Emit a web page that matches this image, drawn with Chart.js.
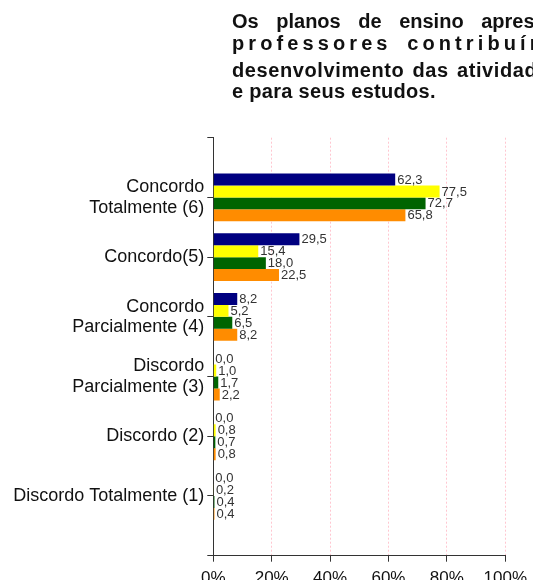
<!DOCTYPE html>
<html>
<head>
<meta charset="utf-8">
<script src="https://cdn.jsdelivr.net/npm/chart.js@4/dist/chart.umd.min.js"></script>
<style>
  html, body { margin: 0; padding: 0; background: #fff; overflow: hidden; }
  #wrap { position: relative; width: 533px; height: 580px; overflow: hidden; }
  #chart { position: absolute; left: 0; top: 0; }
  .tl {
    position: absolute; left: 232px; white-space: nowrap;
    font: bold 20px/20px 'Liberation Sans', Arial, sans-serif; color: #111;
  }
</style>
</head>
<body>
<div id="wrap">
  <canvas id="chart" width="533" height="580"></canvas>
  <div class="tl" style="top:11px; word-spacing:12px;">Os planos de ensino apresentados</div>
  <div class="tl" style="top:33px; letter-spacing:4.1px; word-spacing:6px;">professores contribuíram</div>
  <div class="tl" style="top:60px; letter-spacing:0.6px; word-spacing:2px;">desenvolvimento das atividades</div>
  <div class="tl" style="top:81px; letter-spacing:0.3px;">e para seus estudos.</div>
</div>
<script>
// categories, top to bottom
var categories = [
    ['Concordo', 'Totalmente (6)'],
    'Concordo(5)',
    ['Concordo', 'Parcialmente (4)'],
    ['Discordo', 'Parcialmente (3)'],
    'Discordo (2)',
    'Discordo Totalmente (1)'
];

// percentages per series
var navyValues   = [62.3, 29.5, 8.2, 0.0, 0.0, 0.0];
var yellowValues = [77.5, 15.4, 5.2, 1.0, 0.8, 0.2];
var greenValues  = [72.7, 18.0, 6.5, 1.7, 0.7, 0.4];
var orangeValues = [65.8, 22.5, 8.2, 2.2, 0.8, 0.4];

var xTicks = [0, 20, 40, 60, 80, 100];

// empty slot at top and bottom so the axis gets end ticks
function pad(arr){
    return [null].concat(arr, [null]);
}

var labelFont = "'Liberation Sans', Arial, sans-serif";

// value labels next to each bar end
var valueLabels = {
    id: 'valueLabels',
    afterDatasetsDraw: function(chart){
        var ctx = chart.ctx;
        ctx.save();
        ctx.font = '13px ' + labelFont;
        ctx.fillStyle = '#333';
        ctx.textAlign = 'left';
        ctx.textBaseline = 'middle';
        chart.data.datasets.forEach(function(ds, i){
            var meta = chart.getDatasetMeta(i);
            meta.data.forEach(function(bar, j){
                var v = ds.data[j];
                if(v === null || v === undefined){ return; }
                ctx.fillText(v.toFixed(1).replace('.', ','), bar.x + 2, bar.y + 0.5);
            });
        });
        ctx.restore();
    }
};

window.onload = function(){
    var ctx = document.getElementById('chart').getContext('2d');

    var config = {
        type: 'bar',
        data: {
            labels: [''].concat(categories, ['']),
            datasets: [
                { label: 'Série 1', data: pad(navyValues),   backgroundColor: '#000080' },
                { label: 'Série 2', data: pad(yellowValues), backgroundColor: '#ffff00' },
                { label: 'Série 3', data: pad(greenValues),  backgroundColor: '#006400' },
                { label: 'Série 4', data: pad(orangeValues), backgroundColor: '#ff8c00' }
            ]
        },
        options: {
            indexAxis: 'y',
            responsive: false,
            animation: false,
            devicePixelRatio: 1,
            barPercentage: 1.0,
            categoryPercentage: 0.8,
            layout: { padding: { top: 137.7, right: 26.3, left: 0, bottom: 0 } },
            scales: {
                x: {
                    min: 0,
                    max: 100,
                    afterBuildTicks: function(scale){
                        scale.ticks = xTicks.map(function(v){ return { value: v }; });
                    },
                    afterFit: function(scale){ scale.height = 24.3; },
                    ticks: {
                        callback: function(v){ return v + '%'; },
                        color: '#111',
                        padding: 6,
                        font: { family: labelFont, size: 17 }
                    },
                    grid: {
                        color: function(c){ return c.tick && c.tick.value === 0 ? 'rgba(0,0,0,0)' : '#ffc6d0'; },
                        tickColor: '#333',
                        tickLength: 6,
                        lineWidth: 1
                    },
                    border: { color: '#333', width: 1, dash: [2, 2] }
                },
                y: {
                    offset: false,
                    afterFit: function(scale){ scale.width = 213.3; },
                    ticks: {
                        color: '#111',
                        padding: 3,
                        autoSkip: false,
                        font: { family: labelFont, size: 18, lineHeight: 1.14 }
                    },
                    grid: {
                        offset: false,
                        drawOnChartArea: false,
                        tickColor: '#333',
                        tickLength: 6
                    },
                    border: { color: '#333', width: 1 }
                }
            },
            plugins: {
                legend: { display: false },
                title: { display: false },
                tooltip: { enabled: false }
            }
        },
        plugins: [valueLabels]
    };

    var chart = new Chart(ctx, config);
};
</script>
</body>
</html>
